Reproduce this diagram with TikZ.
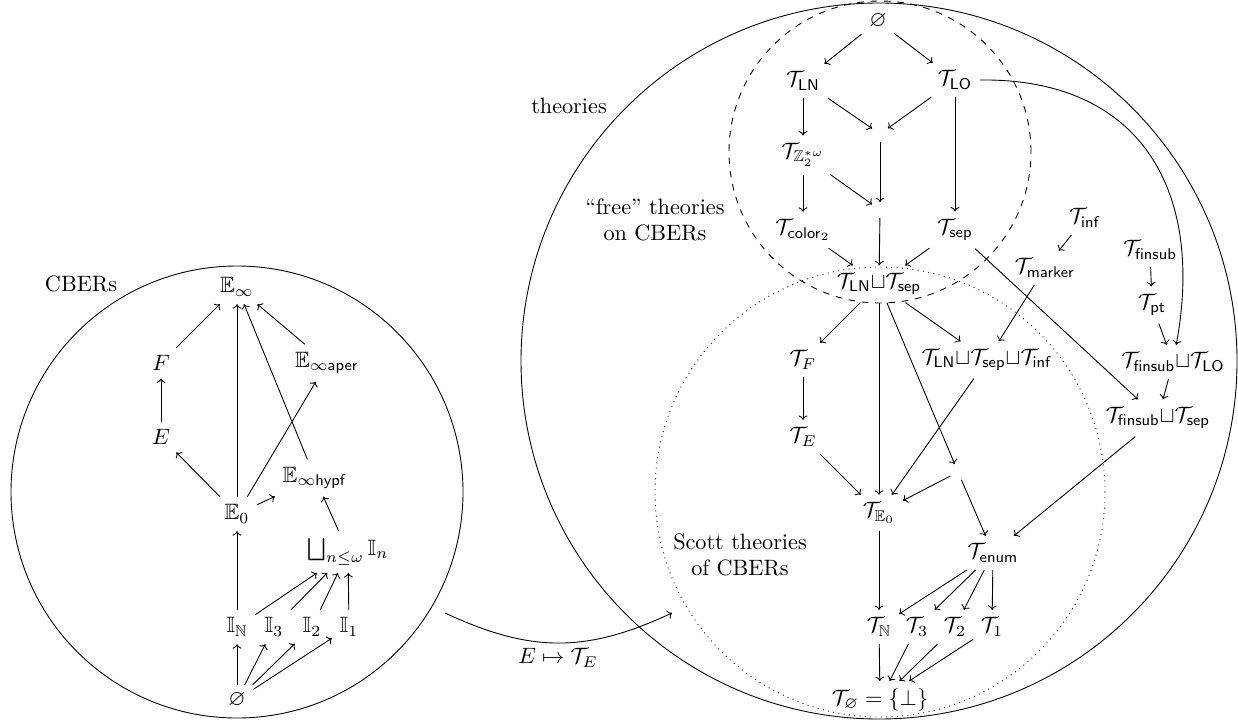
\documentclass[tikz,border=0pt]{standalone}
\usepackage{amsmath,amssymb}
\usetikzlibrary{arrows.meta}
\begin{document}
\begin{tikzpicture}[x=0.45pt,y=-0.45pt,
  ar/.style={-{To[length=2pt,width=4pt]}},
  lab/.style={align=center}]
\useasboundingbox (0,0) rectangle (1238,723);
% regions
\draw (237,492) circle[radius=101.7pt];
\draw (879,361) circle[radius=161.1pt];
\draw[dashed] (880,152) circle[radius=67.95pt];
\draw[dotted] (880,492) circle[radius=101.25pt];
% region labels
\node[lab] (lCBER) at (81,284) {CBERs};
\node[lab] (lthe) at (569,106) {theories};
\node[lab] (lfree) at (655,220) {“free” theories\\on CBERs};
\node[lab] (lscott) at (740,555) {Scott theories\\of CBERs};
% left nodes
\node (LEinf) at (237,287) {$\mathbb{E}_\infty$};
\node (LF) at (161,363) {$F$};
\node (LEaper) at (327,363) {$\mathbb{E}_{\infty\mathsf{aper}}$};
\node (LE) at (161,437) {$E$};
\node (LEhypf) at (315,478) {$\mathbb{E}_{\infty\mathsf{hypf}}$};
\node (LE0) at (237,514) {$\mathbb{E}_0$};
\node (LU) at (348,552) {$\bigsqcup_{n\leq\omega}\mathbb{I}_n$};
\node (LIN) at (237,627) {$\mathbb{I}_\mathbb{N}$};
\node (LI3) at (274,627) {$\mathbb{I}_3$};
\node (LI2) at (312,627) {$\mathbb{I}_2$};
\node (LI1) at (349,627) {$\mathbb{I}_1$};
\node (Lempty) at (237,700) {$\varnothing$};
\draw[ar] (LF) -- (LEinf);
\draw[ar] (LE0) -- (LEinf);
\draw[ar] (LEhypf) -- (LEinf);
\draw[ar] (LEaper) -- (LEinf);
\draw[ar] (LE) -- (LF);
\draw[ar] (LE0) -- (LE);
\draw[ar] (LE0) -- (LEaper);
\draw[ar] (LE0) -- (LEhypf);
\draw[ar] (LU) -- (LEhypf);
\draw[ar] (LIN) -- (LE0);
\draw[ar] (LIN) -- (LU);
\draw[ar] (LI3) -- (LU);
\draw[ar] (LI2) -- (LU);
\draw[ar] (LI1) -- (LU);
\draw[ar] (Lempty) -- (LIN);
\draw[ar] (Lempty) -- (LI3);
\draw[ar] (Lempty) -- (LI2);
\draw[ar] (Lempty) -- (LI1);
% right nodes
\node (Rempty) at (878,21) {$\varnothing$};
\node (TLN) at (803,81) {$\mathcal{T}_{\mathsf{LN}}$};
\node (TLO) at (955,80) {$\mathcal{T}_{\mathsf{LO}}$};
\node (j1) at (880,134) {};
\node (TZ) at (803,155) {$\mathcal{T}_{\mathbb{Z}_2^{*\omega}}$};
\node (j2) at (880,210) {};
\node (Tcol) at (803,230) {$\mathcal{T}_{\mathsf{color}_2}$};
\node (Tsep) at (955,230) {$\mathcal{T}_{\mathsf{sep}}$};
\node (Tinf) at (1085,218) {$\mathcal{T}_{\mathsf{inf}}$};
\node (Tmark) at (1045,268) {$\mathcal{T}_{\mathsf{marker}}$};
\node (Tfin) at (1150,250) {$\mathcal{T}_{\mathsf{finsub}}$};
\node (TLNsep) at (879,284) {$\mathcal{T}_{\mathsf{LN}}{\sqcup}\mathcal{T}_{\mathsf{sep}}$};
\node (Tpt) at (1152,305) {$\mathcal{T}_{\mathsf{pt}}$};
\node (TF) at (803,360) {$\mathcal{T}_F$};
\node (TLNsepinf) at (987,360) {$\mathcal{T}_{\mathsf{LN}}{\sqcup}\mathcal{T}_{\mathsf{sep}}{\sqcup}\mathcal{T}_{\mathsf{inf}}$};
\node (TfLO) at (1173,362) {$\mathcal{T}_{\mathsf{finsub}}{\sqcup}\mathcal{T}_{\mathsf{LO}}$};
\node (TfSep) at (1158,418) {$\mathcal{T}_{\mathsf{finsub}}{\sqcup}\mathcal{T}_{\mathsf{sep}}$};
\node (TE) at (803,437) {$\mathcal{T}_E$};
\node (j3) at (958,472) {};
\node (TE0) at (879,513) {$\mathcal{T}_{\mathbb{E}_0}$};
\node (Tenum) at (993,553) {$\mathcal{T}_{\mathsf{enum}}$};
\node (TN) at (879,627) {$\mathcal{T}_\mathbb{N}$};
\node (T3) at (917,627) {$\mathcal{T}_3$};
\node (T2) at (955,627) {$\mathcal{T}_2$};
\node (T1) at (992,627) {$\mathcal{T}_1$};
\node (Tbot) at (880,700) {$\mathcal{T}_\varnothing=\{\bot\}$};
\draw[ar] (Rempty) -- (TLN);
\draw[ar] (Rempty) -- (TLO);
\draw[ar] (TLN) -- (TZ);
\draw[ar] (TLN) -- (j1);
\draw[ar] (TLO) -- (j1);
\draw[ar] (TLO) -- (Tsep);
\draw[ar] (TLO.east) .. controls (1140,78) and (1205,190) .. (TfLO);
\draw[ar] (j1) -- (j2);
\draw[ar] (TZ) -- (j2);
\draw[ar] (TZ) -- (Tcol);
\draw[ar] (Tcol) -- (TLNsep);
\draw[ar] (j2) -- (TLNsep);
\draw[ar] (Tsep) -- (TLNsep);
\draw[ar] (Tsep) -- (TfSep);
\draw[ar] (Tinf) -- (Tmark);
\draw[ar] (Tmark) -- (TLNsepinf);
\draw[ar] (Tfin) -- (Tpt);
\draw[ar] (Tpt) -- (TfLO);
\draw[ar] (TfLO) -- (TfSep);
\draw[ar] (TLNsep) -- (TF);
\draw[ar] (TLNsep) -- (TE0);
\draw[ar] (TLNsep) -- (j3);
\draw[ar] (TLNsep) -- (TLNsepinf);
\draw[ar] (TF) -- (TE);
\draw[ar] (TE) -- (TE0);
\draw[ar] (TLNsepinf) -- (TE0);
\draw[ar] (j3) -- (TE0);
\draw[ar] (j3) -- (Tenum);
\draw[ar] (TfSep) -- (Tenum);
\draw[ar] (TE0) -- (TN);
\draw[ar] (Tenum) -- (TN);
\draw[ar] (Tenum) -- (T3);
\draw[ar] (Tenum) -- (T2);
\draw[ar] (Tenum) -- (T1);
\draw[ar] (TN) -- (Tbot);
\draw[ar] (T3) -- (Tbot);
\draw[ar] (T2) -- (Tbot);
\draw[ar] (T1) -- (Tbot);
% map arrow
\coordinate (mapS) at (445,613);
\coordinate (mapE) at (672,613);
\draw[ar] (mapS) .. controls (531,653) and (586,653) .. (mapE);
\node (mapL) at (558,658) {$E\mapsto\mathcal{T}_E$};
\end{tikzpicture}
\end{document}
